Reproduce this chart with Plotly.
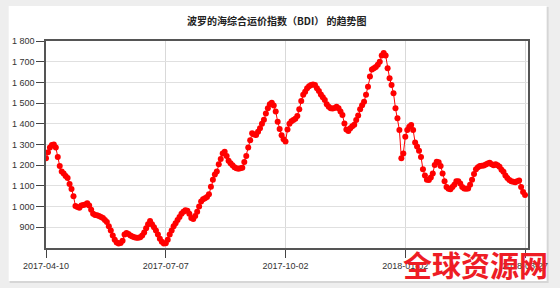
import plotly.graph_objects as go

title_text = "波罗的海综合运价指数（BDI） 的趋势图"
tick_labels = ["2017-04-10", "2017-07-07", "2017-10-02", "2018-01-02", "2018-03-27"]
tick_index = [0, 61, 122, 183, 244]
y_ticks = [900, 1000, 1100, 1200, 1300, 1400, 1500, 1600, 1700, 1800]

bdi = [
    1233, 1262, 1285, 1298, 1300, 1285, 1240, 1196, 1169, 1160,
    1148, 1138, 1109, 1085, 1050, 1003, 998, 995, 1005, 1008,
    1010, 1016, 1005, 985, 965, 960, 958, 955, 950, 945,
    935, 925, 905, 885, 860, 840, 826, 822, 824, 835,
    865, 872, 868, 860, 855, 852, 850, 850, 852, 860,
    875, 895, 915, 930, 915, 900, 885, 865, 845, 830,
    822, 823, 840, 865, 885, 905, 920, 935, 950, 965,
    975, 982, 980, 965, 945, 940, 955, 975, 1000, 1025,
    1035, 1040, 1046, 1060, 1096, 1130, 1155, 1170, 1205, 1230,
    1257, 1265, 1245, 1222, 1210, 1200, 1190, 1185, 1183, 1185,
    1188, 1215, 1245, 1285, 1320, 1354, 1348, 1346, 1362, 1378,
    1400, 1420, 1450, 1475, 1495, 1502, 1488, 1460, 1410, 1375,
    1345, 1325, 1315, 1372, 1400, 1412, 1418, 1425, 1438, 1470,
    1510, 1540, 1555, 1572, 1582, 1587, 1590, 1587, 1572, 1558,
    1542, 1528, 1515, 1495, 1482, 1475, 1474, 1476, 1482, 1475,
    1460, 1442, 1402, 1372, 1365, 1378, 1388, 1396, 1418, 1440,
    1470, 1490, 1507, 1540, 1579, 1628, 1662, 1668, 1674, 1685,
    1700, 1730, 1742, 1730, 1668, 1620, 1587, 1547, 1475, 1427,
    1370, 1233, 1257, 1338, 1370, 1386, 1394, 1370, 1310, 1290,
    1270, 1240, 1180, 1150, 1130, 1128, 1140, 1160, 1201, 1217,
    1214, 1196, 1160, 1122, 1095, 1086, 1084, 1095, 1106, 1122,
    1122, 1112, 1095, 1088, 1086, 1088, 1105, 1130, 1158, 1180,
    1190, 1196, 1197, 1198, 1203, 1208, 1212, 1205, 1200, 1205,
    1200, 1192, 1178, 1168, 1150, 1138, 1128, 1122, 1120, 1118,
    1122, 1126, 1095, 1070, 1056,
]
x_idx = list(range(len(bdi)))

fig = go.Figure()
fig.add_trace(go.Scatter(
    x=x_idx, y=bdi, mode="lines+markers",
    line=dict(color="#ff0000", width=1),
    marker=dict(color="#ff0000", size=6),
    hoverinfo="skip", showlegend=False,
))

L, R, T, B = 44, 535, 41, 248
W, H = 560, 288
pw, ph = R - L, B - T

def px(x):
    return (x - L) / pw

def py(y):
    return (B - y) / ph

fig.update_layout(
    width=W, height=H,
    margin=dict(l=L, r=W - R, t=T, b=H - B, pad=0),
    paper_bgcolor="#eeeeee",
    plot_bgcolor="#ffffff",
    separators=". ",
    font=dict(family="Liberation Sans, Arial, sans-serif", size=9, color="#333333"),
    shapes=[
        dict(type="rect", xref="paper", yref="paper", layer="below",
             x0=px(7), x1=px(556), y0=py(283), y1=py(7),
             fillcolor="#d6d6d6", line=dict(width=0)),
        dict(type="rect", xref="paper", yref="paper", layer="below",
             x0=px(6), x1=px(554), y0=py(281), y1=py(6),
             fillcolor="#ffffff", line=dict(width=0)),
    ],
    annotations=[
        dict(text="<b>" + title_text + "</b>", xref="paper", yref="paper",
             x=px(279), y=py(20), xanchor="center", yanchor="middle", showarrow=False,
             font=dict(family="Noto Sans CJK SC", size=10, color="#222222")),
        dict(text="<b>全球资源网</b>", xref="paper", yref="paper",
             x=px(482), y=py(264), xanchor="center", yanchor="middle", showarrow=False,
             font=dict(family="Noto Sans CJK SC", size=29, color="#ee1c25")),
    ],
)

fig.update_xaxes(
    range=[0, 245.5],
    tickmode="array", tickvals=tick_index, ticktext=tick_labels,
    ticks="outside", ticklen=8, tickcolor="#444444", tickwidth=1,
    showgrid=True, gridcolor="#d9d9d9", gridwidth=1,
    showline=True, linecolor="#555555", linewidth=1.5, mirror=True,
    zeroline=False,
    tickfont=dict(size=9, color="#333333"),
)
fig.update_yaxes(
    range=[800, 1800],
    tickmode="array", tickvals=y_ticks,
    tickformat=",d",
    ticks="outside", ticklen=8, tickcolor="#444444", tickwidth=1,
    showgrid=True, gridcolor="#e0e0e0", gridwidth=1,
    showline=True, linecolor="#555555", linewidth=1.5, mirror=True,
    zeroline=False,
    tickfont=dict(size=9, color="#333333"),
)

fig.write_html("out.html")
